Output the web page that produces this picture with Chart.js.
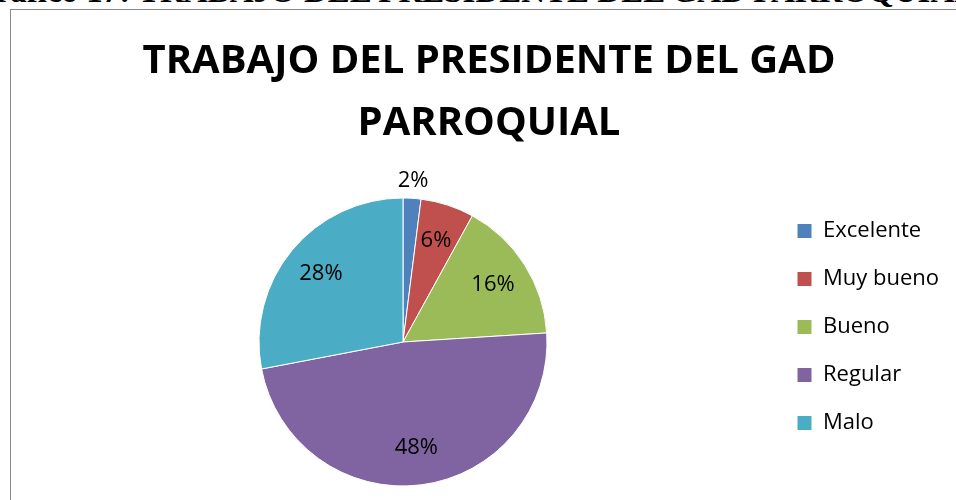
<!DOCTYPE html>
<html>
<head>
<meta charset="utf-8">
<script src="https://cdn.jsdelivr.net/npm/chart.js@4"></script>
<style>
  html, body { margin: 0; padding: 0; background: #fff; }
  body { width: 956px; height: 500px; overflow: hidden; position: relative; }
  #caption {
    position: absolute; top: -25px; left: -30px;
    font: bold 33px "Liberation Serif", "Times New Roman", serif;
    line-height: 33px; white-space: nowrap; color: #000;
  }
  #frame {
    position: absolute; left: 10px; top: 9px; width: 980px; height: 520px;
    border: 1px solid #8a8a8a;
  }
  #myChart { position: absolute; left: 10px; top: 9px; }
</style>
</head>
<body>
<div id="caption">Gráfico 17: TRABAJO DEL PRESIDENTE DEL GAD PARROQUIAL</div>
<div id="frame"></div>
<canvas id="myChart" width="958" height="491"></canvas>
<script>
let categorias = ['Excelente', 'Muy bueno', 'Bueno', 'Regular', 'Malo'];
let porcentajes = [2, 6, 16, 48, 28];
let colores = ['#4F81BD', '#C0504D', '#9BBB59', '#8064A2', '#4BACC6'];
let titulo = ['TRABAJO DEL PRESIDENTE DEL GAD', 'PARROQUIAL'];

//writes the percentage of each slice, small slices get it outside the pie
let etiquetas = {
  id: 'etiquetas',
  afterDatasetsDraw(chart) {
    let ctx = chart.ctx;
    let arcs = chart.getDatasetMeta(0).data;
    ctx.save();
    ctx.font = '22px "Open Sans"';
    ctx.fillStyle = '#000';
    ctx.textAlign = 'center';
    ctx.textBaseline = 'middle';
    arcs.forEach((arc, i) => {
      let p = arc.getProps(['x', 'y', 'startAngle', 'endAngle', 'outerRadius'], true);
      let mid = (p.startAngle + p.endAngle) / 2;
      let dist = porcentajes[i] < 4 ? p.outerRadius + 18 : p.outerRadius * 0.74;
      ctx.fillText(`${porcentajes[i]}%`, p.x + Math.cos(mid) * dist, p.y + Math.sin(mid) * dist);
    });
    ctx.restore();
  }
};

function makePieChart() {
  let canvas = document.getElementById('myChart').getContext('2d');

  let pieChart = new Chart(canvas, {
    type: 'pie',
    data: {
      labels: categorias,
      datasets: [{
        data: porcentajes,
        backgroundColor: colores,
        borderColor: '#fff',
        borderWidth: 1,
        radius: 144
      }]
    },
    options: {
      responsive: false,
      animation: false,
      layout: {
        padding: { left: 25, right: 25, top: 0, bottom: 10 }
      },
      plugins: {
        tooltip: { enabled: false },
        title: {
          display: true,
          text: titulo,
          color: '#000',
          font: { family: 'Open Sans', size: 40, weight: 'bold', lineHeight: 1.55 },
          padding: { top: 22, bottom: 39 }
        },
        legend: {
          position: 'right',
          align: 'start',
          fullSize: false,
          maxWidth: 172,
          labels: {
            boxWidth: 15,
            boxHeight: 15,
            padding: 26,
            color: '#000',
            font: { family: 'Open Sans', size: 22 }
          }
        }
      }
    },
    plugins: [etiquetas]
  });
}

document.fonts.load('bold 40px "Open Sans"').then(() => document.fonts.load('22px "Open Sans"')).then(makePieChart, makePieChart);
</script>
</body>
</html>
